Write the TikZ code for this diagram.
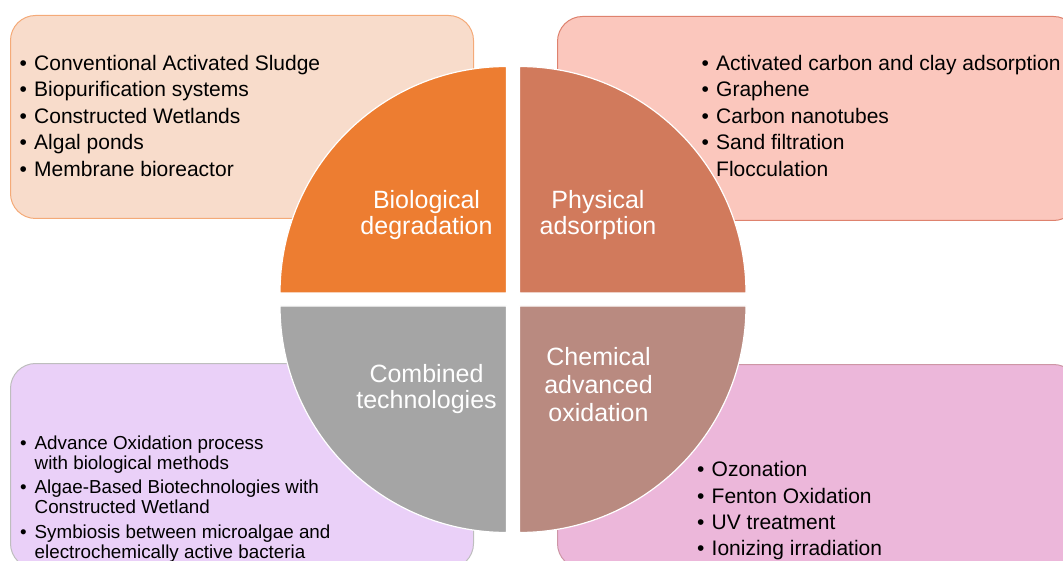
\documentclass[tikz,border=0pt]{standalone}
\usepackage{fontspec}
\setmainfont{Liberation Sans}
\definecolor{BioOrange}{RGB}{237,125,49}
\definecolor{PhysRed}{RGB}{209,122,92}
\definecolor{CombGrey}{RGB}{165,165,165}
\definecolor{ChemRose}{RGB}{185,138,128}
\definecolor{BioLight}{RGB}{248,220,203}
\definecolor{BioLine}{RGB}{244,170,120}
\definecolor{PhysLight}{RGB}{251,199,189}
\definecolor{PhysLine}{RGB}{222,130,110}
\definecolor{CombLight}{RGB}{234,208,248}
\definecolor{CombLine}{RGB}{190,190,190}
\definecolor{ChemLight}{RGB}{236,183,218}
\definecolor{ChemLine}{RGB}{205,150,165}
\def\quadR{226.5}
\newcommand{\itm}{\makebox[14.5pt][l]{\textbullet}}
\newcommand{\hang}{\hspace*{14.5pt}}

\begin{document}
\begin{tikzpicture}
    [x=1pt,y=-1pt,
    listbox/.style={rectangle,rounded corners=25pt,line width=1pt,anchor=north west,inner sep=0pt},
    quad/.style={draw=white,line width=1.2pt},
    quadlabel/.style={text=white,align=center,anchor=north,inner sep=0pt,font=\fontsize{25}{26}\selectfont},
    listtext/.style={align=left,anchor=north west,inner sep=0pt,font=\fontsize{21}{26.4}\selectfont},
    ]
    \useasboundingbox (0,0) rectangle (1063,561);
    \clip (0,0) rectangle (1063,561);
    \node[listbox,fill=BioLight,draw=BioLine,minimum width=463pt,minimum height=203pt] (bioBox) at (10,15) {};
    \node[listbox,fill=PhysLight,draw=PhysLine,minimum width=521pt,minimum height=204pt] (physBox) at (557,16) {};
    \node[listbox,fill=CombLight,draw=CombLine,minimum width=463pt,minimum height=205pt] (combBox) at (10,363) {};
    \node[listbox,fill=ChemLight,draw=ChemLine,minimum width=521pt,minimum height=204pt] (chemBox) at (557,364) {};
    \path[fill=BioOrange,quad] (506.5,293) -- ++(-\quadR,0) arc[start angle=180,end angle=270,radius=\quadR] -- cycle;
    \path[fill=PhysRed,quad] (519.5,293) -- ++(\quadR,0) arc[start angle=0,end angle=-90,radius=\quadR] -- cycle;
    \path[fill=CombGrey,quad] (506.5,306) -- ++(-\quadR,0) arc[start angle=180,end angle=90,radius=\quadR] -- cycle;
    \path[fill=ChemRose,quad] (519.5,306) -- ++(\quadR,0) arc[start angle=0,end angle=90,radius=\quadR] -- cycle;
    \node[quadlabel] (bioLabel) at (426.5,190) {Biological\\degradation};
    \node[quadlabel] (physLabel) at (598,190) {Physical\\adsorption};
    \node[quadlabel] (combLabel) at (426.5,364) {Combined\\technologies};
    \node[quadlabel] (chemLabel) at (598.5,347.5) {Chemical\\[2pt]advanced\\[2pt]oxidation};
    \node[listtext] (bioList) at (19.5,55) {\itm Conventional Activated Sludge\\\itm Biopurification systems\\\itm Constructed Wetlands\\\itm Algal ponds\\\itm Membrane bioreactor};
    \node[listtext] (physList) at (701.5,55) {\itm Activated carbon and clay adsorption\\\itm Graphene\\\itm Carbon nanotubes\\\itm Sand filtration\\\hang Flocculation};
    \node[listtext,font=\fontsize{18.8}{20}\selectfont] (combList) at (20,435.8) {\itm Advance Oxidation process\\\hang with biological methods\\[4.2pt]\itm Algae-Based Biotechnologies with\\\hang Constructed Wetland\\[4.2pt]\itm Symbiosis between microalgae and\\\hang electrochemically active bacteria};
    \node[listtext,font=\fontsize{21}{26.2}\selectfont] (chemList) at (697,461.5) {\itm Ozonation\\\itm Fenton Oxidation\\\itm UV treatment\\\itm Ionizing irradiation};
\end{tikzpicture}
\end{document}
